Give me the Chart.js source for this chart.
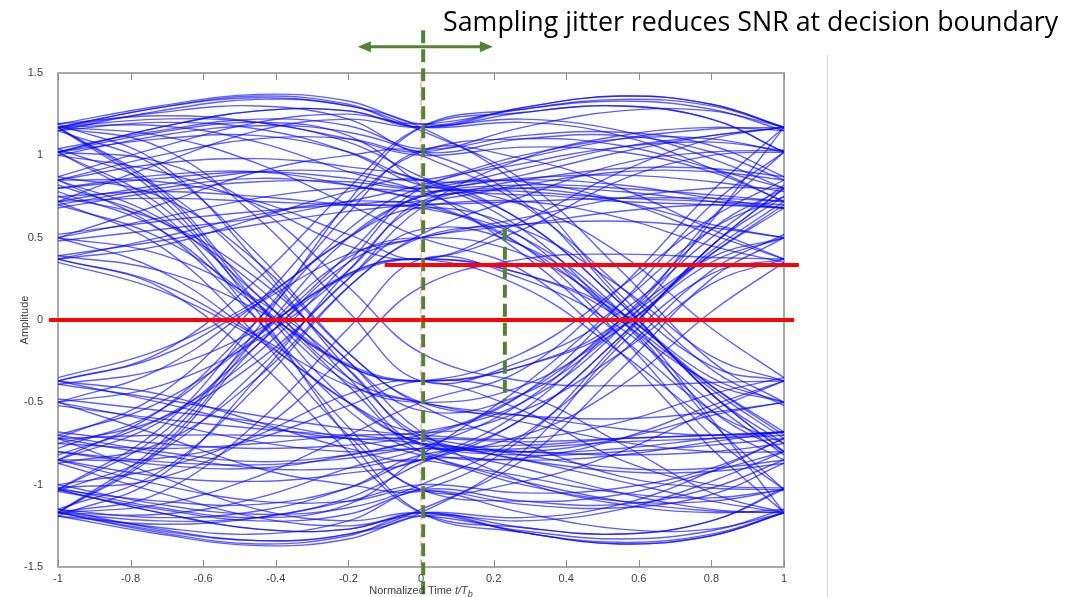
<!DOCTYPE html>
<html>
<head>
<meta charset="utf-8">
<script src="https://cdn.jsdelivr.net/npm/chart.js@4.4.1/dist/chart.umd.min.js"></script>
<style>
  html, body { margin: 0; padding: 0; background: #fff; }
</style>
</head>
<body>
<canvas id="eyeChart" width="1086" height="597"></canvas>
<script>
// sample instants of every trace (normalized time t/Tb)
const timePoints = [-1, -0.72, -0.45, -0.2, 0, 0.28, 0.55, 0.8, 1];

const xTicks = [-1, -0.8, -0.6, -0.4, -0.2, 0, 0.2, 0.4, 0.6, 0.8, 1];
const xTickLabels = ['-1', '-0.8', '-0.6', '-0.4', '-0.2', '0', '0.2', '0.4', '0.6', '0.8', '1'];
const yTicks = [-1.5, -1, -0.5, 0, 0.5, 1, 1.5];
const yTickLabels = ['-1.5', '-1', '-0.5', '0', '0.5', '1', '1.5'];

// traces that start above zero at t = -1
const posStartTraces = [
    [1.17, 1.29, 1.36, 1.31, 1.17, 1.29, 1.36, 1.31, 1.17],
    [1.17, 1.26, 1.30, 1.22, 1.02, 1.10, 1.12, 1.02, 0.85],
    [1.02, 1.17, 1.27, 1.27, 1.17, 1.26, 1.30, 1.22, 1.02],
    [1.17, 1.29, 1.35, 1.30, 1.17, 0.80, 0.15, -0.28, -0.37],
    [1.17, 0.80, 0.15, -0.28, -0.37, -0.28, -0.04, 0.42, 0.72],
    [1.17, 0.78, 0.10, -0.50, -0.75, -0.90, -1.05, -1.15, -1.17],
    [1.17, 0.75, 0.05, -0.72, -1.17, -1.29, -1.36, -1.31, -1.17],
    [1.02, 1.10, 1.12, 1.02, 0.85, 0.84, 0.72, 0.52, 0.37],
    [1.02, 0.70, 0.10, -0.38, -0.50, -0.40, -0.05, 0.35, 0.50],
    [0.85, 1.00, 1.10, 1.10, 1.02, 1.17, 1.27, 1.27, 1.17],
    [0.85, 0.55, 0.00, -0.55, -0.80, -0.85, -0.82, -0.74, -0.68],
    [0.80, 0.88, 0.90, 0.82, 0.72, 0.45, -0.10, -0.70, -1.03],
    [0.72, 0.82, 0.90, 0.90, 0.85, 1.00, 1.10, 1.10, 1.02],
    [0.72, 0.45, -0.10, -0.70, -1.03, -1.10, -1.06, -0.92, -0.80],
    [0.50, 0.62, 0.74, 0.80, 0.78, 0.80, 0.72, 0.58, 0.50],
    [0.50, 0.30, -0.10, -0.50, -0.68, -0.55, -0.20, 0.22, 0.37],
    [0.37, 0.50, 0.64, 0.72, 0.72, 0.82, 0.90, 0.90, 0.85],
    [0.37, 0.20, -0.25, -0.80, -1.17, -1.26, -1.30, -1.22, -1.02],
    [0.37, 0.22, -0.10, -0.40, -0.50, -0.62, -0.74, -0.80, -0.80],
    [0.78, 0.55, 0.08, -0.27, -0.37, -0.28, 0.00, 0.62, 1.02],
    [0.50, 0.70, 0.90, 1.00, 1.02, 0.72, 0.12, -0.45, -0.75],
    [1.17, 1.12, 0.95, 0.70, 0.50, 0.30, -0.20, -0.78, -1.17],
    [0.85, 0.84, 0.72, 0.52, 0.37, 0.60, 0.90, 1.10, 1.17],
    [1.02, 1.17, 1.27, 1.27, 1.17, 1.20, 1.12, 0.92, 0.72],
    [1.17, 1.18, 1.08, 0.90, 0.78, 0.50, 0.00, -0.38, -0.50],
    [0.72, 0.95, 1.15, 1.22, 1.17, 1.29, 1.36, 1.31, 1.17],
    [1.02, 0.66, 0.00, -0.65, -1.03, -0.98, -0.80, -0.55, -0.37],
    [0.85, 0.95, 0.98, 0.93, 0.85, 0.55, 0.00, -0.55, -0.80],
    [1.15, 1.27, 1.34, 1.30, 1.15, 0.85, 0.30, -0.25, -0.50],
    [1.19, 0.95, 0.35, -0.30, -0.70, -0.80, -0.78, -0.72, -0.68],
    [1.04, 1.15, 1.22, 1.18, 1.04, 1.12, 1.14, 1.06, 0.87],
    [0.87, 0.75, 0.35, -0.20, -0.50, -0.58, -0.60, -0.56, -0.50],
    [0.35, 0.18, -0.12, -0.50, -0.75, -0.82, -0.80, -0.76, -0.72],
    [0.39, 0.30, 0.06, -0.28, -0.37, -0.20, 0.20, 0.62, 0.85],
    [0.70, 0.80, 0.86, 0.82, 0.75, 0.85, 0.92, 0.92, 0.87],
    [0.75, 0.60, 0.25, -0.25, -0.68, -0.98, -1.12, -1.17, -1.15],
    [1.19, 1.24, 1.20, 1.08, 0.87, 0.60, 0.10, -0.45, -0.80],
    [1.00, 1.12, 1.18, 1.14, 1.00, 0.70, 0.20, -0.30, -0.52],
    [0.52, 0.60, 0.66, 0.70, 0.70, 0.45, 0.02, -0.40, -0.68],
    [0.48, 0.55, 0.62, 0.72, 0.82, 0.98, 1.10, 1.16, 1.17],
    [1.15, 1.20, 1.16, 1.02, 0.82, 0.78, 0.74, 0.72, 0.70],
    [0.82, 0.60, 0.20, -0.35, -0.76, -0.70, -0.40, 0.05, 0.35],
    [1.04, 0.80, 0.30, -0.25, -0.55, -0.45, -0.05, 0.40, 0.70],
    [0.87, 1.05, 1.20, 1.25, 1.19, 1.28, 1.33, 1.28, 1.15],
    [1.19, 1.30, 1.37, 1.33, 1.19, 1.22, 1.15, 0.98, 0.80],
    [0.70, 0.50, 0.10, -0.40, -0.80, -0.95, -1.05, -1.08, -1.03],
    [0.39, 0.48, 0.58, 0.66, 0.70, 0.72, 0.62, 0.45, 0.35],
    [1.00, 0.90, 0.70, 0.45, 0.37, 0.55, 0.85, 1.00, 1.02],
    [0.75, 0.78, 0.75, 0.70, 0.68, 0.50, 0.05, -0.60, -1.17],
    [1.15, 0.92, 0.40, -0.20, -0.52, -0.75, -0.95, -1.02, -1.03],
    [0.80, 0.86, 0.90, 0.86, 0.80, 0.86, 0.88, 0.84, 0.78],
    [1.17, 1.05, 0.62, 0.05, -0.37, -0.25, 0.05, 0.50, 0.82],
    [0.68, 0.78, 0.84, 0.84, 0.80, 0.92, 1.05, 1.12, 1.17],
    [0.72, 0.74, 0.72, 0.70, 0.70, 0.72, 0.74, 0.74, 0.72],
    [1.02, 1.14, 1.20, 1.12, 0.82, 0.40, -0.10, -0.55, -0.75],
    [0.50, 0.40, 0.12, -0.30, -0.72, -0.76, -0.72, -0.70, -0.68],
    [0.85, 0.62, 0.15, -0.35, -0.50, -0.58, -0.66, -0.70, -0.68],
    [1.17, 1.22, 1.20, 1.10, 1.00, 1.05, 1.02, 0.90, 0.72],
    [0.37, 0.45, 0.62, 0.78, 0.85, 0.60, 0.10, -0.45, -0.80],
    [1.02, 0.96, 0.68, 0.20, -0.20, -0.37, -0.40, -0.38, -0.37]
];

// traces that start below zero at t = -1
const negStartTraces = [
    [-1.17, -1.29, -1.36, -1.31, -1.17, -1.29, -1.35, -1.30, -1.17],
    [-1.17, -1.26, -1.30, -1.22, -1.03, -1.10, -1.12, -1.02, -0.85],
    [-1.03, -1.17, -1.27, -1.27, -1.17, -1.26, -1.30, -1.22, -1.03],
    [-1.17, -1.28, -1.34, -1.30, -1.17, -0.80, -0.15, 0.28, 0.37],
    [-1.17, -0.80, -0.15, 0.28, 0.37, 0.28, 0.04, -0.42, -0.72],
    [-1.17, -0.78, -0.10, 0.50, 0.75, 0.88, 1.02, 1.12, 1.17],
    [-1.17, -0.75, -0.05, 0.72, 1.17, 1.28, 1.34, 1.30, 1.17],
    [-1.03, -1.10, -1.12, -1.02, -0.85, -0.84, -0.72, -0.52, -0.37],
    [-1.03, -0.70, -0.10, 0.38, 0.50, 0.40, 0.05, -0.35, -0.50],
    [-0.85, -1.00, -1.10, -1.10, -1.03, -1.17, -1.27, -1.27, -1.17],
    [-0.85, -0.55, 0.00, 0.55, 0.80, 0.85, 0.82, 0.74, 0.68],
    [-0.80, -0.88, -0.90, -0.82, -0.72, -0.45, 0.10, 0.70, 1.02],
    [-0.72, -0.82, -0.90, -0.90, -0.85, -1.00, -1.10, -1.10, -1.03],
    [-0.72, -0.45, 0.10, 0.70, 1.02, 1.10, 1.06, 0.92, 0.80],
    [-0.50, -0.62, -0.74, -0.80, -0.78, -0.80, -0.72, -0.58, -0.50],
    [-0.50, -0.30, 0.10, 0.50, 0.68, 0.55, 0.20, -0.22, -0.37],
    [-0.37, -0.50, -0.64, -0.72, -0.72, -0.82, -0.90, -0.90, -0.85],
    [-0.37, -0.20, 0.25, 0.80, 1.17, 1.26, 1.30, 1.22, 1.02],
    [-0.37, -0.22, 0.10, 0.40, 0.50, 0.62, 0.74, 0.80, 0.80],
    [-0.78, -0.55, -0.08, 0.27, 0.37, 0.28, 0.00, -0.62, -1.03],
    [-0.50, -0.70, -0.90, -1.00, -1.03, -0.72, -0.12, 0.45, 0.75],
    [-1.17, -1.12, -0.95, -0.70, -0.50, -0.30, 0.20, 0.78, 1.17],
    [-0.85, -0.84, -0.72, -0.52, -0.37, -0.45, -0.75, -1.05, -1.17],
    [-1.03, -1.17, -1.27, -1.27, -1.17, -1.20, -1.12, -0.92, -0.72],
    [-1.17, -1.18, -1.08, -0.90, -0.78, -0.50, 0.00, 0.38, 0.50],
    [-0.72, -0.95, -1.15, -1.22, -1.17, -1.29, -1.36, -1.31, -1.17],
    [-1.03, -0.66, 0.00, 0.65, 1.03, 0.98, 0.80, 0.55, 0.37],
    [-0.85, -0.95, -0.98, -0.93, -0.85, -0.55, 0.00, 0.55, 0.80],
    [-1.15, -1.27, -1.34, -1.30, -1.15, -0.85, -0.30, 0.25, 0.50],
    [-1.19, -0.95, -0.35, 0.30, 0.70, 0.80, 0.78, 0.72, 0.68],
    [-1.04, -1.15, -1.22, -1.18, -1.04, -1.12, -1.14, -1.06, -0.87],
    [-0.87, -0.75, -0.35, 0.20, 0.50, 0.58, 0.60, 0.56, 0.50],
    [-0.35, -0.18, 0.12, 0.50, 0.75, 0.82, 0.80, 0.76, 0.72],
    [-0.39, -0.30, -0.06, 0.28, 0.37, 0.20, -0.20, -0.62, -0.85],
    [-0.70, -0.80, -0.86, -0.82, -0.75, -0.85, -0.92, -0.92, -0.87],
    [-0.75, -0.60, -0.25, 0.25, 0.68, 0.98, 1.12, 1.17, 1.15],
    [-1.19, -1.24, -1.20, -1.08, -0.87, -0.60, -0.10, 0.45, 0.80],
    [-1.00, -1.12, -1.18, -1.14, -1.00, -0.70, -0.20, 0.30, 0.52],
    [-0.52, -0.60, -0.66, -0.70, -0.70, -0.45, -0.02, 0.40, 0.68],
    [-0.48, -0.55, -0.62, -0.72, -0.82, -0.98, -1.10, -1.16, -1.17],
    [-1.15, -1.20, -1.16, -1.02, -0.82, -0.78, -0.74, -0.72, -0.70],
    [-0.82, -0.60, -0.20, 0.35, 0.76, 0.70, 0.40, -0.05, -0.35],
    [-1.04, -0.80, -0.30, 0.25, 0.55, 0.45, 0.05, -0.40, -0.70],
    [-0.87, -1.05, -1.20, -1.25, -1.19, -1.28, -1.33, -1.28, -1.15],
    [-1.19, -1.30, -1.37, -1.33, -1.19, -1.22, -1.15, -0.98, -0.80],
    [-0.70, -0.50, -0.10, 0.40, 0.80, 0.95, 1.05, 1.08, 1.03],
    [-0.39, -0.48, -0.58, -0.66, -0.70, -0.72, -0.62, -0.45, -0.35],
    [-1.00, -0.90, -0.70, -0.45, -0.37, -0.55, -0.85, -1.00, -1.02],
    [-0.75, -0.78, -0.75, -0.70, -0.68, -0.50, -0.05, 0.60, 1.17],
    [-1.15, -0.92, -0.40, 0.20, 0.52, 0.75, 0.95, 1.02, 1.03],
    [-0.80, -0.86, -0.88, -0.84, -0.78, -0.80, -0.82, -0.80, -0.75],
    [-1.17, -1.05, -0.62, -0.05, 0.37, 0.25, -0.05, -0.50, -0.82],
    [-0.68, -0.75, -0.78, -0.76, -0.72, -0.74, -0.72, -0.70, -0.68],
    [-0.72, -0.70, -0.70, -0.72, -0.75, -0.85, -0.98, -1.10, -1.17],
    [-1.02, -1.14, -1.20, -1.12, -0.82, -0.40, 0.10, 0.55, 0.75],
    [-0.50, -0.40, -0.12, 0.30, 0.72, 0.76, 0.72, 0.70, 0.68],
    [-0.85, -0.62, -0.15, 0.35, 0.50, 0.58, 0.66, 0.70, 0.68],
    [-1.17, -1.22, -1.20, -1.10, -1.00, -1.05, -1.02, -0.90, -0.72],
    [-0.37, -0.45, -0.62, -0.78, -0.85, -0.60, -0.10, 0.45, 0.80],
    [-1.02, -0.96, -0.68, -0.20, 0.20, 0.37, 0.40, 0.38, 0.37]
];

// overlay marks, in data units
const zeroThreshold = [{ x: -1.025, y: 0 }, { x: 1.028, y: 0 }];
const shiftedThreshold = [{ x: -0.1, y: 0.334 }, { x: 1.041, y: 0.334 }];
const sampleInstant = [{ x: 0.006, y: 1.76 }, { x: 0.006, y: -1.72 }];
const shiftedInstant = [{ x: 0.231, y: 0.56 }, { x: 0.231, y: -0.49 }];
const zeroTimeMark = [{ x: 0, y: 1.5 }, { x: 0, y: -1.5 }];
const jitterArrow = [{ x: -0.174, y: 1.66 }, { x: 0.198, y: 1.66 }];

const titleText = 'Sampling jitter reduces SNR at decision boundary';
const GREEN = '#548235';
const RED = '#ff0000';
const AXIS_FONT = '"Liberation Sans", Arial, sans-serif';

const toPoints = (vals) => vals.map((v, i) => ({ x: timePoints[i], y: v }));

const traceSets = posStartTraces.concat(negStartTraces).map(vals => ({
    data: toPoints(vals),
    borderColor: 'rgba(10, 10, 255, 0.65)',
    borderWidth: 1.4,
    pointRadius: 0,
    tension: 0.4,
    order: 10
}));

const overlay = (data, color, width, dash) => ({
    data: data,
    borderColor: color,
    borderWidth: width,
    borderDash: dash || [],
    pointRadius: 0,
    clip: false,
    order: 0
});

const overlaySets = [
    overlay(zeroTimeMark, 'rgba(240, 110, 110, 0.8)', 1, [6, 3]),
    overlay(zeroThreshold, RED, 4),
    overlay(shiftedThreshold, RED, 4),
    overlay(sampleInstant, GREEN, 4, [13, 6]),
    overlay(shiftedInstant, GREEN, 4, [13, 6])
];

// frame, inward ticks, arrow, x title, slide title and separator
const decorations = {
    id: 'decorations',
    beforeDatasetsDraw(chart) {
        const { ctx, chartArea: a, scales } = chart;
        ctx.save();
        ctx.strokeStyle = '#8c8c8c';
        ctx.lineWidth = 1.5;
        ctx.strokeRect(a.left, a.top, a.right - a.left, a.bottom - a.top);
        ctx.lineWidth = 1;
        xTicks.forEach(v => {
            const x = Math.round(scales.x.getPixelForValue(v)) + 0.5;
            ctx.beginPath();
            ctx.moveTo(x, a.bottom);
            ctx.lineTo(x, a.bottom - 7);
            ctx.moveTo(x, a.top);
            ctx.lineTo(x, a.top + 7);
            ctx.stroke();
        });
        ctx.restore();
    },
    afterDraw(chart) {
        const { ctx, chartArea: a, scales } = chart;
        ctx.save();

        // double-headed jitter arrow
        const x0 = scales.x.getPixelForValue(jitterArrow[0].x);
        const x1 = scales.x.getPixelForValue(jitterArrow[1].x);
        const ya = scales.y.getPixelForValue(jitterArrow[0].y);
        const head = 13;
        ctx.strokeStyle = GREEN;
        ctx.fillStyle = GREEN;
        ctx.lineWidth = 3;
        ctx.beginPath();
        ctx.moveTo(x0 + head - 2, ya);
        ctx.lineTo(x1 - head + 2, ya);
        ctx.stroke();
        ctx.beginPath();
        ctx.moveTo(x0, ya);
        ctx.lineTo(x0 + head, ya - 5.5);
        ctx.lineTo(x0 + head, ya + 5.5);
        ctx.closePath();
        ctx.moveTo(x1, ya);
        ctx.lineTo(x1 - head, ya - 5.5);
        ctx.lineTo(x1 - head, ya + 5.5);
        ctx.closePath();
        ctx.fill();

        // slide separator
        ctx.strokeStyle = '#d9d9d9';
        ctx.lineWidth = 1;
        ctx.beginPath();
        ctx.moveTo(827.5, 55);
        ctx.lineTo(827.5, 597);
        ctx.stroke();

        // x axis title with italic t/T and subscript b
        ctx.fillStyle = '#404040';
        ctx.textBaseline = 'alphabetic';
        const p1 = 'Normalized Time ';
        const p2 = 't/T';
        const p3 = 'b';
        ctx.font = '11px ' + AXIS_FONT;
        const w1 = ctx.measureText(p1).width;
        ctx.font = 'italic 11px ' + AXIS_FONT;
        const w2 = ctx.measureText(p2).width;
        ctx.font = 'italic 9px ' + AXIS_FONT;
        const w3 = ctx.measureText(p3).width;
        let x = (a.left + a.right) / 2 - (w1 + w2 + w3) / 2;
        const y = 594;
        ctx.font = '11px ' + AXIS_FONT;
        ctx.fillText(p1, x, y);
        x += w1;
        ctx.font = 'italic 11px ' + AXIS_FONT;
        ctx.fillText(p2, x, y);
        x += w2;
        ctx.font = 'italic 9px ' + AXIS_FONT;
        ctx.fillText(p3, x, y + 3);

        // slide title
        ctx.fillStyle = '#000';
        ctx.font = '28px "Open Sans", sans-serif';
        const tw = ctx.measureText(titleText).width;
        const size = 28 * 615 / tw;
        ctx.font = size.toFixed(1) + 'px "Open Sans", sans-serif';
        ctx.fillText(titleText, 443, 31);
        ctx.restore();
    }
};

new Chart(document.getElementById('eyeChart'), {
    type: 'line',
    data: { datasets: overlaySets.concat(traceSets) },
    options: {
        responsive: false,
        animation: false,
        events: [],
        layout: { padding: { left: 0, right: 302, top: 73, bottom: 0 } },
        plugins: {
            legend: { display: false },
            tooltip: { enabled: false },
            title: { display: false }
        },
        scales: {
            x: {
                type: 'linear',
                min: -1,
                max: 1,
                afterBuildTicks: (s) => { s.ticks = xTicks.map(v => ({ value: v })); },
                afterFit: (s) => { s.height = 30; },
                grid: { display: false, drawTicks: false },
                border: { display: false },
                ticks: {
                    padding: 5,
                    maxRotation: 0,
                    autoSkip: false,
                    color: '#404040',
                    font: { family: AXIS_FONT, size: 11 },
                    callback: (v, i) => xTickLabels[i]
                }
            },
            y: {
                type: 'linear',
                min: -1.5,
                max: 1.5,
                afterBuildTicks: (s) => { s.ticks = yTicks.map(v => ({ value: v })); },
                afterFit: (s) => { s.width = 58; },
                grid: { display: false, drawTicks: false },
                border: { display: false },
                title: {
                    display: true,
                    text: 'Amplitude',
                    color: '#404040',
                    font: { family: AXIS_FONT, size: 11 },
                    padding: { top: 18, bottom: 0 }
                },
                ticks: {
                    padding: 15,
                    autoSkip: false,
                    color: '#404040',
                    font: { family: AXIS_FONT, size: 11 },
                    callback: (v, i) => yTickLabels[i]
                }
            }
        }
    },
    plugins: [decorations]
});
</script>
</body>
</html>
